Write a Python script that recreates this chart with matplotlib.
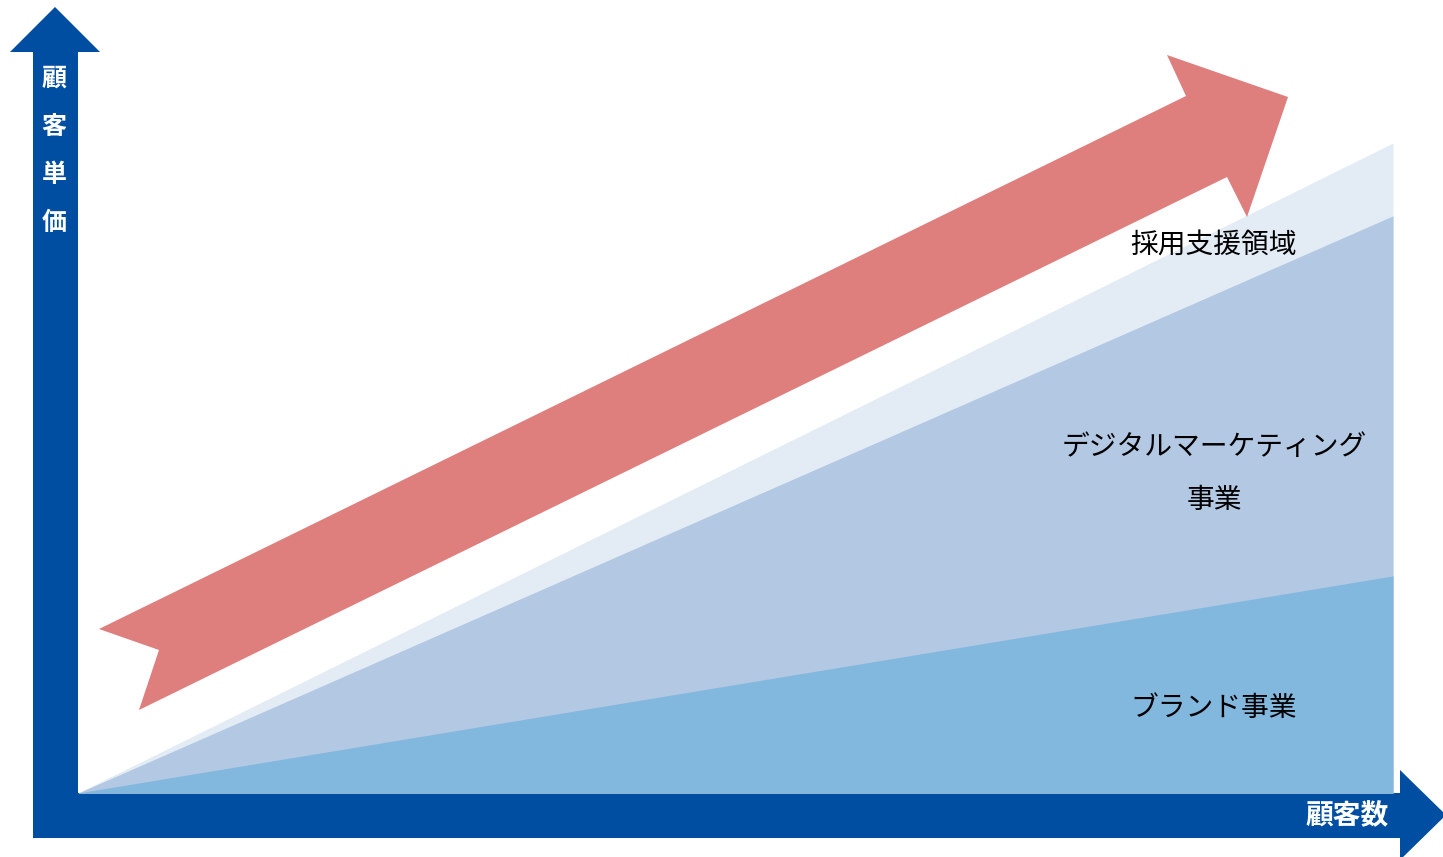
import matplotlib.pyplot as plt
from matplotlib.patches import Polygon

plt.rcParams['font.family'] = ['Noto Sans CJK JP', 'DejaVu Sans']

# data: share of unit price reached at the right end (0..100)
customers = [0, 100]
recruit = [0, 100.0]
digital = [0, 88.8]
brand = [0, 33.4]

labels = ['採用支援領域', 'デジタルマーケティング\n事業', 'ブランド事業']
y_label = '顧客単価'
x_label = '顧客数'

blue = '#004EA2'
red = '#DE7F7E'
c_recruit = '#E3EBF5'
c_digital = '#B3C8E2'
c_brand = '#83B8DE'

W, H = 1443, 857
fig = plt.figure(figsize=(W / 100, H / 100), dpi=100)

# background: axis arrows in pixel space
bg = fig.add_axes([0, 0, 1, 1])
bg.set_xlim(0, W)
bg.set_ylim(H, 0)
bg.axis('off')
bg.add_patch(Polygon([(33, 838), (33, 52), (10, 52), (55, 7), (100, 52), (78, 52), (78, 838)],
                     closed=True, color=blue, lw=0))
bg.add_patch(Polygon([(33, 793), (1400, 793), (1400, 770), (1446, 815), (1400, 860), (1400, 838), (33, 838)],
                     closed=True, color=blue, lw=0, clip_on=False))

# data areas
ax = fig.add_axes([78 / W, 64 / H, 1315 / W, 650 / H])
ax.set_xlim(0, 100)
ax.set_ylim(0, 100)
ax.axis('off')
ax.patch.set_alpha(0)
ax.fill_between(customers, 0, recruit, color=c_recruit, lw=0)
ax.fill_between(customers, 0, digital, color=c_digital, lw=0)
ax.fill_between(customers, 0, brand, color=c_brand, lw=0)

# foreground: growth arrow and labels
fg = fig.add_axes([0, 0, 1, 1])
fg.set_xlim(0, W)
fg.set_ylim(H, 0)
fg.axis('off')
fg.patch.set_alpha(0)
fg.add_patch(Polygon([(99, 629), (1186, 96), (1167, 55), (1288, 97), (1247, 217),
                      (1227, 177), (139, 710), (159, 650)],
                     closed=True, color=red, lw=0))

fg.text(1214, 246, labels[0], fontsize=20, ha='center', va='center', color='black')
fg.text(1214, 473, labels[1], fontsize=20, ha='center', va='center', color='black',
        linespacing=2.0)
fg.text(1214, 708, labels[2], fontsize=20, ha='center', va='center', color='black')

for i, ch in enumerate(y_label):
    fg.text(54, 79 + 48 * i, ch, fontsize=18, fontweight='bold', color='white',
            ha='center', va='center')
fg.text(1347, 816, x_label, fontsize=20, fontweight='bold', color='white',
        ha='center', va='center')

fig.savefig('out.png', dpi=100)
